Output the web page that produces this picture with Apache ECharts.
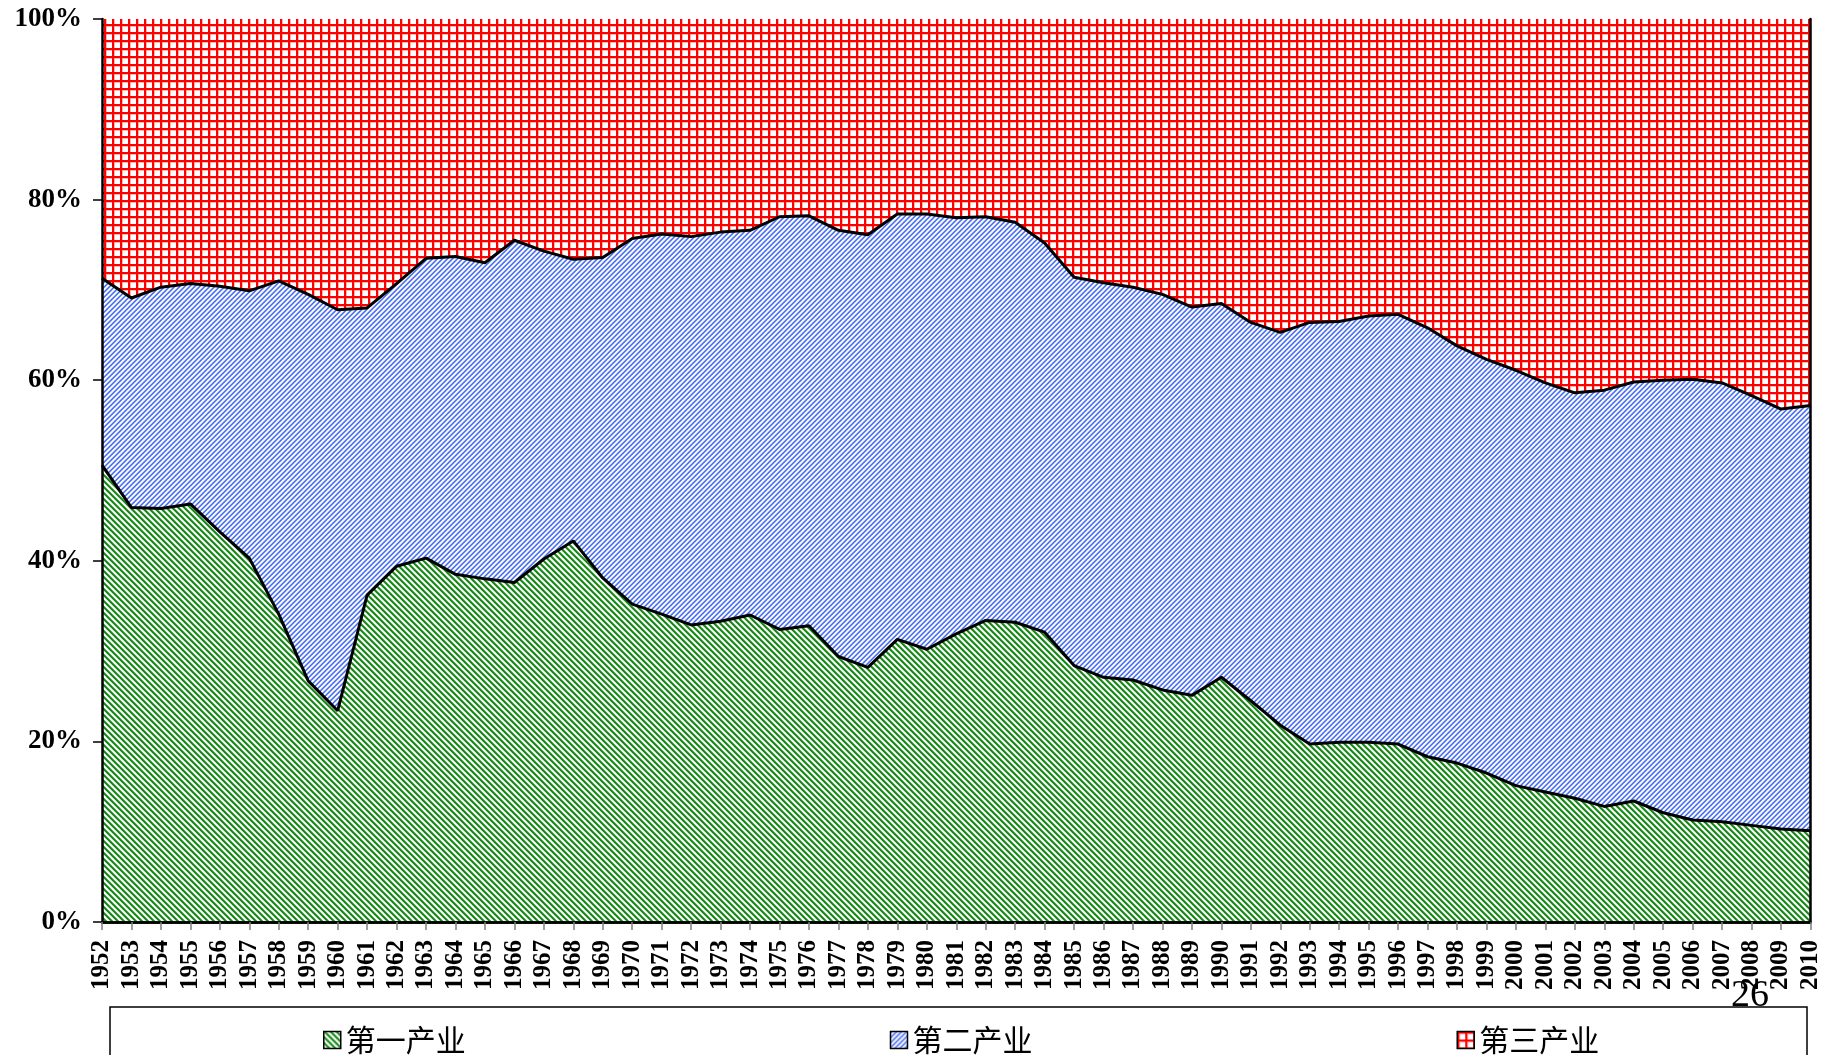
<!DOCTYPE html>
<html>
<head>
<meta charset="utf-8">
<title>三次产业结构</title>
<script src="https://cdn.jsdelivr.net/npm/echarts@6/dist/echarts.min.js"></script>
<style>
    html, body {margin: 0; padding: 0; background: #fff;}
    #main {width: 1823px; height: 1055px;}
</style>
</head>
<body>
<div id="main"></div>
<script>
    // 年份
    var years = ['1952','1953','1954','1955','1956','1957','1958','1959','1960','1961',
        '1962','1963','1964','1965','1966','1967','1968','1969','1970','1971',
        '1972','1973','1974','1975','1976','1977','1978','1979','1980','1981',
        '1982','1983','1984','1985','1986','1987','1988','1989','1990','1991',
        '1992','1993','1994','1995','1996','1997','1998','1999','2000','2001',
        '2002','2003','2004','2005','2006','2007','2008','2009','2010'];
    // 第一产业 %
    var primary = [50.6,45.9,45.8,46.3,43.2,40.3,34.1,26.7,23.4,36.2,
        39.4,40.3,38.5,38.0,37.6,40.2,42.2,38.1,35.2,34.1,
        32.9,33.3,34.0,32.4,32.8,29.4,28.2,31.3,30.2,31.9,
        33.4,33.2,32.1,28.4,27.1,26.8,25.7,25.1,27.1,24.5,
        21.8,19.7,19.9,19.9,19.7,18.3,17.6,16.5,15.1,14.4,
        13.7,12.8,13.4,12.1,11.3,11.1,10.7,10.3,10.1];
    // 第二产业 %
    var secondary = [20.7,23.2,24.5,24.4,27.2,29.6,36.9,42.8,44.4,31.8,
        31.3,33.2,35.2,35.0,37.9,34.1,31.2,35.5,40.5,42.1,
        43.0,43.1,42.6,45.7,45.4,47.2,47.9,47.1,48.2,46.1,
        44.7,44.3,43.1,43.0,43.7,43.5,43.8,43.0,41.4,41.9,
        43.5,46.7,46.6,47.2,47.6,47.5,46.2,45.8,46.0,45.3,
        44.9,46.1,46.4,47.9,48.8,48.6,47.6,46.5,47.1];
    // 第三产业 %
    var tertiary = [28.7,30.9,29.7,29.3,29.6,30.1,29.0,30.5,32.2,32.0,
        29.3,26.5,26.3,27.0,24.5,25.7,26.6,26.4,24.3,23.8,
        24.1,23.6,23.4,21.9,21.8,23.4,23.9,21.6,21.6,22.0,
        21.9,22.5,24.8,28.6,29.2,29.7,30.5,31.9,31.5,33.6,
        34.7,33.6,33.5,32.9,32.7,34.2,36.2,37.7,38.9,40.3,
        41.4,41.1,40.2,40.0,39.9,40.3,41.7,43.2,42.8];
    var yTicks = [0, 20, 40, 60, 80, 100];

    // 斜线填充 dir: 1 -> '\', -1 -> '/'
    function stripe(n, dir, colors){
        var c = document.createElement('canvas');
        c.width = n; c.height = n;
        var ctx = c.getContext('2d');
        for(var x = 0; x < n; x++){
            for(var y = 0; y < n; y++){
                var k = ((x - dir * y) % n + n) % n;
                ctx.fillStyle = colors[k];
                ctx.fillRect(x, y, 1, 1);
            }
        }
        return {image: c, repeat: 'repeat'};
    }
    // 网格填充
    function grid(n){
        var c = document.createElement('canvas');
        c.width = n; c.height = n;
        var ctx = c.getContext('2d');
        ctx.fillStyle = '#ffffff';
        ctx.fillRect(0, 0, n, n);
        ctx.fillStyle = '#ffb4b4';
        ctx.fillRect(0, 0, n, 3);
        ctx.fillRect(0, 0, 3, n);
        ctx.fillStyle = '#ff0000';
        ctx.fillRect(0, 0, n, 2);
        ctx.fillRect(0, 0, 2, n);
        return {image: c, repeat: 'repeat'};
    }

    var greenPat = stripe(6, 1, ['#148a14','#148a14','#5aad5a','#ffffff','#ffffff','#b8dcb8']);
    var bluePat = stripe(5, -1, ['#4a6ef2','#6f8cf5','#eef2ff','#ffffff','#b9c8fb']);
    var redPat = grid(8);

    var serifBold = {fontFamily: 'Liberation Serif', fontWeight: 'bold', color: '#000'};

    var myChart = echarts.init(document.getElementById('main'));
    myChart.setOption({
        animation: false,
        backgroundColor: '#fff',
        grid: {left: 102, right: 7, top: 19, bottom: 133},
        legend: {
            left: 318,
            top: 1020,
            icon: 'rect',
            itemWidth: 17,
            itemHeight: 17,
            itemGap: 424,
            textStyle: {fontFamily: 'Noto Sans CJK SC', fontSize: 30, color: '#000'},
            data: [
                {name: '第一产业', itemStyle: {color: greenPat, borderColor: '#000', borderWidth: 1.5}},
                {name: '第二产业', itemStyle: {color: bluePat, borderColor: '#000', borderWidth: 1.5}},
                {name: '第三产业', itemStyle: {color: redPat, borderColor: '#000', borderWidth: 1.5}}
            ]
        },
        graphic: [
            {
                type: 'rect',
                shape: {x: 110, y: 1007, width: 1697, height: 80},
                style: {fill: null, stroke: '#000', lineWidth: 1.5},
                z: 1
            },
            {
                type: 'text',
                x: 1750, y: 996,
                style: {text: '26', fontFamily: 'Liberation Serif', fontSize: 38, fill: '#000',
                    textAlign: 'center', textVerticalAlign: 'middle'},
                z: 20
            }
        ],
        xAxis: [
            {
                type: 'category',
                data: years,
                boundaryGap: false,
                z: 10,
                axisLine: {lineStyle: {color: '#000', width: 2.5}},
                axisTick: {alignWithLabel: true, length: 8, lineStyle: {color: '#808080', width: 1.5}, interval: 0},
                axisLabel: Object.assign({interval: 0, rotate: 90, fontSize: 25, margin: 18}, serifBold)
            },
            {
                // 上边框
                type: 'category',
                data: years,
                boundaryGap: false,
                position: 'top',
                z: 10,
                axisLine: {lineStyle: {color: '#000', width: 2.5}},
                axisTick: {show: false},
                axisLabel: {show: false}
            }
        ],
        yAxis: [
            {
                type: 'value',
                min: yTicks[0],
                max: yTicks[yTicks.length - 1],
                interval: 20,
                z: 10,
                axisLine: {show: true, lineStyle: {color: '#000', width: 2.5}},
                axisTick: {show: true, length: 9, lineStyle: {color: '#000', width: 1.5}},
                splitLine: {show: false},
                axisLabel: Object.assign({formatter: '{value}%', fontSize: 27, margin: 20}, serifBold)
            },
            {
                // 右边框
                type: 'value',
                min: 0,
                max: 100,
                position: 'right',
                z: 10,
                axisLine: {show: true, lineStyle: {color: '#000', width: 2.5}},
                axisTick: {show: false},
                splitLine: {show: false},
                axisLabel: {show: false}
            }
        ],
        series: [
            {
                name: '第一产业',
                type: 'line',
                stack: 'total',
                data: primary,
                symbol: 'none',
                lineStyle: {color: '#000', width: 3},
                itemStyle: {color: greenPat},
                areaStyle: {color: greenPat, opacity: 1},
                z: 5
            },
            {
                name: '第二产业',
                type: 'line',
                stack: 'total',
                data: secondary,
                symbol: 'none',
                lineStyle: {color: '#000', width: 3},
                itemStyle: {color: bluePat},
                areaStyle: {color: bluePat, opacity: 1},
                z: 4
            },
            {
                name: '第三产业',
                type: 'line',
                stack: 'total',
                data: tertiary,
                symbol: 'none',
                lineStyle: {width: 0},
                itemStyle: {color: redPat},
                areaStyle: {color: redPat, opacity: 1},
                z: 3
            }
        ]
    });
</script>
</body>
</html>
